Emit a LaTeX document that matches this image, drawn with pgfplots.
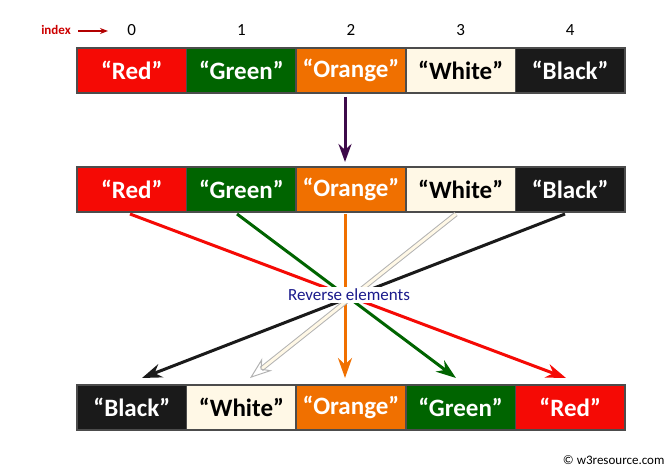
\documentclass[border=0pt]{standalone}
\usepackage{pgfplots}
\pgfplotsset{compat=1.18}
\usepackage{fontspec}
\setmainfont{Carlito}
\usetikzlibrary{arrows.meta}
\definecolor{cR}{HTML}{F50A05}
\definecolor{cG}{HTML}{006400}
\definecolor{cO}{HTML}{F07000}
\definecolor{cW}{HTML}{FFF8E6}
\definecolor{cB}{HTML}{1A1A1A}
\definecolor{navy}{HTML}{1A1A8C}
\definecolor{purp}{HTML}{3D0A4A}
\begin{document}
\begin{tikzpicture}
\begin{axis}[width=671pt,height=470pt,scale only axis,xmin=0,xmax=671,ymin=0,ymax=470,y dir=reverse,axis lines=none,clip=false]
\addplot[draw=none] coordinates {(0,0)(671,470)};
\pgfplotsinvokeforeach{0,1,2,3,4}{\node[font=\fontsize{17}{19}\selectfont] at (axis cs:{131.8+109.6*#1},30) {#1};}
\node[font=\fontsize{13}{15}\selectfont\bfseries,text=red!80!black] at (axis cs:56,30) {index};
\addplot[-{Stealth[length=8pt,width=6pt]},red!70!black,line width=1.2pt] coordinates {(78,31)(108,31)};
\newcommand\cell[5]{\addplot[fill=#3,draw=gray!60!black,line width=1.5pt] coordinates {({77+109.6*#1},#2)({186.6+109.6*#1},#2)({186.6+109.6*#1},{#2+45})({77+109.6*#1},{#2+45})} --cycle;
\node[font=\fontsize{25}{28}\selectfont\bfseries,text=#4] at (axis cs:{131.8+109.6*#1},{#2+22.5}) {#5};}
\cell{0}{48}{cR}{white}{“Red”}
\cell{1}{48}{cG}{white}{“Green”}
\cell{2}{48}{cO}{white}{“Orange”}
\cell{3}{48}{cW}{black}{“White”}
\cell{4}{48}{cB}{white}{“Black”}
\cell{0}{167}{cR}{white}{“Red”}
\cell{1}{167}{cG}{white}{“Green”}
\cell{2}{167}{cO}{white}{“Orange”}
\cell{3}{167}{cW}{black}{“White”}
\cell{4}{167}{cB}{white}{“Black”}
\cell{0}{385}{cB}{white}{“Black”}
\cell{1}{385}{cW}{black}{“White”}
\cell{2}{385}{cO}{white}{“Orange”}
\cell{3}{385}{cG}{white}{“Green”}
\cell{4}{385}{cR}{white}{“Red”}
\addplot[-{Stealth[length=18pt,width=13pt]},purp,line width=3pt] coordinates {(345,97)(345,162)};
\addplot[-{Stealth[length=20pt,width=14pt]},cR,line width=3pt] coordinates {(130,214)(566,378)};
\addplot[-{Stealth[length=20pt,width=14pt]},cG,line width=3pt] coordinates {(237,214)(456,378)};
\addplot[-{Stealth[length=20pt,width=14pt]},cO,line width=3pt] coordinates {(345,214)(345,378)};
\addplot[-{Stealth[length=20pt,width=14pt]},cB,line width=3pt] coordinates {(565,214)(142,378)};
\addplot[-{Stealth[open,length=22pt,width=16pt]},gray!60,double=cW,double distance=3pt,line width=1pt] coordinates {(456,214)(250,378)};
\node[fill=white,inner sep=2pt,text=navy,font=\fontsize{17}{19}\selectfont] at (axis cs:349,295) {Reverse elements};
\node[font=\fontsize{13}{15}\selectfont,anchor=east] at (axis cs:668,460) {© w3resource.com};
\end{axis}
\end{tikzpicture}
\end{document}
